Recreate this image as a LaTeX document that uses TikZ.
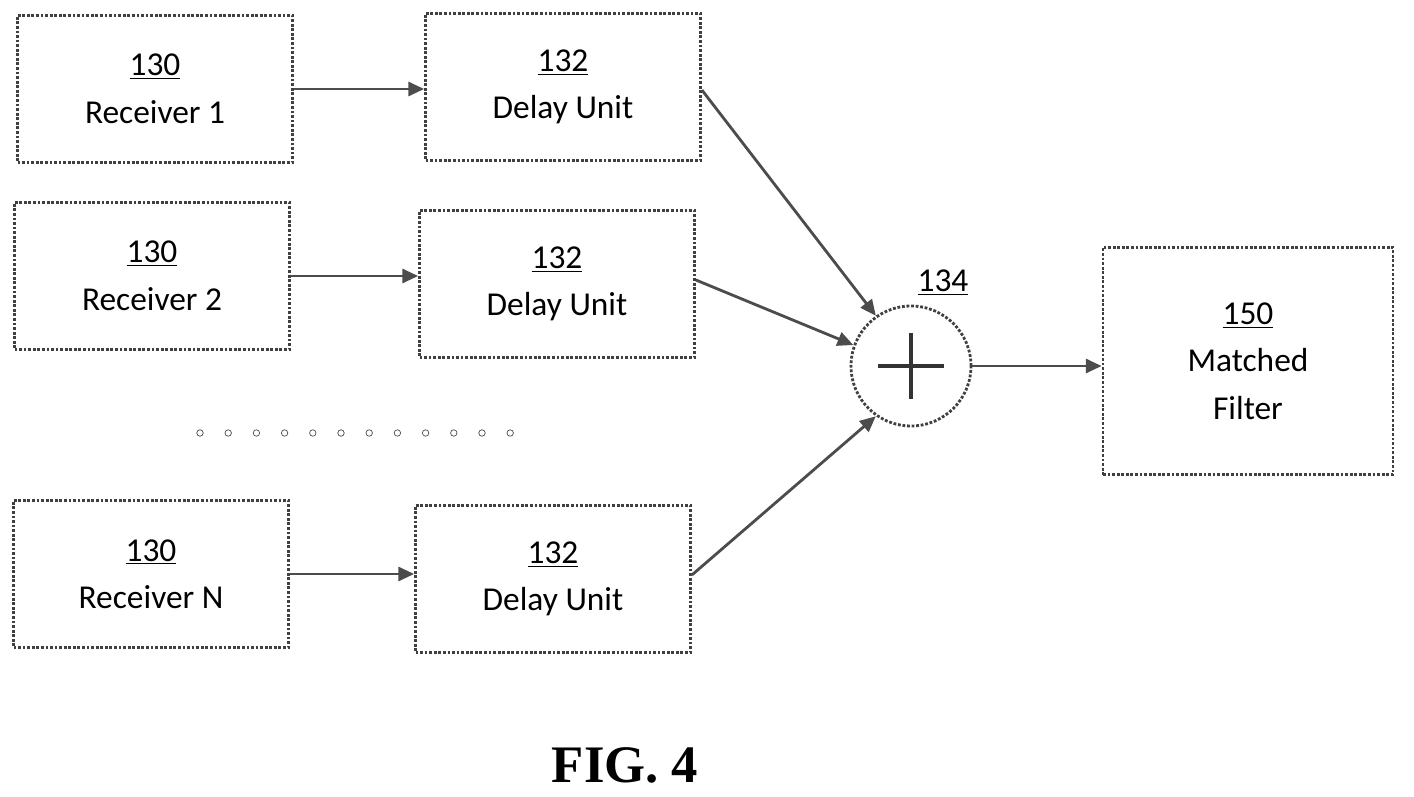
\documentclass[tikz,border=0pt]{standalone}
\usepackage{fontspec}
\setmainfont{Carlito}
\newfontfamily\figfont{Liberation Serif}
\usetikzlibrary{arrows.meta}
\tikzset{
  blk/.style={draw=black!75, densely dotted, line width=1.6pt, minimum width=5.5cm, minimum height=2.95cm, align=center, font=\fontsize{19}{27}\selectfont},
  con/.style={draw=black!70, line width=1.6pt, -{Triangle[length=9pt,width=8pt]}}
}
\begin{document}
\begin{tikzpicture}[x=0.02cm,y=-0.02cm]
\useasboundingbox (0,0) rectangle (1414,797);
% receivers and delay units
\node[blk] (r1) at (155,89) {\underline{130}\\Receiver 1};
\node[blk] (d1) at (563,87) {\underline{132}\\Delay Unit};
\node[blk] (r2) at (152,276) {\underline{130}\\Receiver 2};
\node[blk] (d2) at (557,284) {\underline{132}\\Delay Unit};
\node[blk] (rn) at (151,574) {\underline{130}\\Receiver N};
\node[blk] (dn) at (553,579) {\underline{132}\\Delay Unit};
% summer and filter
\node[circle, draw=black!75, densely dotted, line width=1.6pt, minimum size=2.4cm] (sum) at (911,366) {};
\draw[black!80, line width=2pt] (sum.center) ++(-33,0) -- ++(66,0) (sum.center) ++(0,-33) -- ++(0,66);
\node[font=\fontsize{19}{23}\selectfont] (lab) at (943,283) {\underline{134}};
\node[blk, minimum width=5.8cm, minimum height=4.55cm] (mf) at (1248,361) {\underline{150}\\Matched\\Filter};
% dots
\foreach \i in {0,...,11}
  \node[circle, draw=black!70, inner sep=1.3pt] (dot\i) at (200+\i*28.2,433) {};
% arrows
\draw[con] (r1.east) -- (d1.west |- r1.east);
\draw[con] (r2.east) -- (d2.west |- r2.east);
\draw[con] (rn.east) -- (dn.west |- rn.east);
\draw[con] (d1.east) ++(0,3) -- (sum.125);
\draw[con] (d2.east) ++(0,-4) -- (sum.160);
\draw[con] (dn.east) ++(0,-4) -- (sum.235);
\draw[con] (sum.east) -- (mf.west |- sum.east);
\node[font=\figfont\bfseries\fontsize{30}{34}\selectfont] (fig) at (625,765) {FIG. 4};
\end{tikzpicture}
\end{document}
